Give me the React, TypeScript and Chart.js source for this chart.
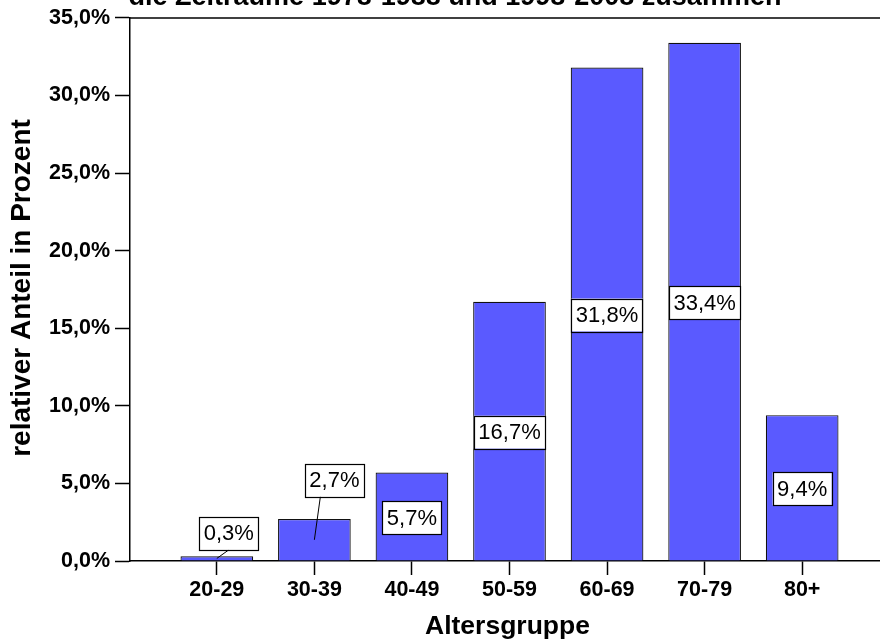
import React, { useEffect, useRef } from "react";
import { Chart, registerables } from "chart.js";

Chart.register(...registerables);

// Age groups and their relative share (percent)
const ageGroups: string[] = ["20-29", "30-39", "40-49", "50-59", "60-69", "70-79", "80+"];
const shares: number[] = [0.3, 2.7, 5.7, 16.7, 31.8, 33.4, 9.4];
const yTicks: number[] = [0, 5, 10, 15, 20, 25, 30, 35];

const titleText = "die Zeiträume 1978-1988 und 1998-2008 zusammen";
const xTitle = "Altersgruppe";
const yTitle = "relativer Anteil in Prozent";

const FONT = "'Liberation Sans', Arial, Helvetica, sans-serif";

const fmt = (v: number) => v.toFixed(1).replace(".", ",") + "%";

// Labels of short bars are moved above the bar and joined by a leader line
const callouts: Record<number, { dx: number; dy: number; tip: number }> = {
  0: { dx: 12, dy: -23, tip: 12 },
  1: { dx: 20, dy: -39, tip: 6 },
};

const decorPlugin = {
  id: "decor",
  afterDraw(chart: any) {
    const { ctx, chartArea } = chart;
    ctx.save();
    // frame line along the top of the plot
    ctx.strokeStyle = "#000";
    ctx.lineWidth = 1.5;
    ctx.beginPath();
    ctx.moveTo(chartArea.left, chartArea.top);
    ctx.lineTo(chartArea.right, chartArea.top);
    ctx.stroke();

    // chart title (sits partly above the canvas edge)
    ctx.fillStyle = "#000";
    ctx.font = `bold 27px ${FONT}`;
    ctx.textAlign = "center";
    ctx.textBaseline = "alphabetic";
    ctx.fillText(titleText, 455, 5);

    // axis titles
    ctx.textBaseline = "middle";
    ctx.font = `bold 26.5px ${FONT}`;
    ctx.fillText(xTitle, (chartArea.left + chartArea.right) / 2 - 2, 627);
    ctx.save();
    ctx.font = `bold 28px ${FONT}`;
    ctx.translate(22, 288);
    ctx.rotate(-Math.PI / 2);
    ctx.fillText(yTitle, 0, 0);
    ctx.restore();

    // value labels
    const meta = chart.getDatasetMeta(0);
    ctx.font = `22px ${FONT}`;
    meta.data.forEach((bar: any, i: number) => {
      const text = fmt(shares[i]);
      const w = ctx.measureText(text).width + 9;
      const h = 33;
      let cx = bar.x;
      let cy = (bar.y + bar.base) / 2 + 1;
      const c = callouts[i];
      if (c) {
        const midY = (bar.y + bar.base) / 2;
        cx = bar.x + c.dx;
        cy = bar.y + c.dy;
        ctx.strokeStyle = "#000";
        ctx.lineWidth = 1;
        ctx.beginPath();
        ctx.moveTo(bar.x, midY);
        ctx.lineTo(bar.x + c.tip, cy + h / 2);
        ctx.stroke();
      }
      ctx.fillStyle = "#fff";
      ctx.fillRect(cx - w / 2, cy - h / 2, w, h);
      ctx.strokeStyle = "#000";
      ctx.lineWidth = 1.2;
      ctx.strokeRect(Math.round(cx - w / 2) + 0.5, Math.round(cy - h / 2) + 0.5, Math.round(w), h);
      ctx.fillStyle = "#000";
      ctx.textAlign = "center";
      ctx.textBaseline = "middle";
      ctx.fillText(text, cx, cy + 1);
    });
    ctx.restore();
  },
};

export default function App() {
  const canvasRef = useRef<HTMLCanvasElement | null>(null);

  useEffect(() => {
    const canvas = canvasRef.current;
    if (!canvas) return;
    const chart = new Chart(canvas, {
      type: "bar",
      data: {
        datasets: [
          {
            data: shares.map((v, i) => ({ x: i + 1, y: v })),
            backgroundColor: "#5a5aff",
            borderColor: "#111",
            borderWidth: 1.2,
            barPercentage: 0.745,
            categoryPercentage: 1,
          },
        ],
      },
      options: {
        responsive: false,
        animation: false,
        layout: { padding: { top: 16, right: 11, left: 0, bottom: 0 } },
        plugins: {
          legend: { display: false },
          tooltip: { enabled: false },
          title: { display: false },
        },
        scales: {
          x: {
            type: "linear",
            offset: false,
            min: 0.11,
            max: 7.89,
            afterFit: (scale: any) => {
              scale.height = 82;
            },
            afterBuildTicks: (scale: any) => {
              scale.ticks = ageGroups.map((_, i) => ({ value: i + 1 }));
            },
            ticks: {
              callback: (v: any) => ageGroups[Number(v) - 1] ?? "",
              color: "#000",
              font: { family: FONT, size: 21.5, weight: "bold" },
              padding: 2,
              maxRotation: 0,
              autoSkip: false,
            },
            grid: {
              offset: false,
              drawOnChartArea: false,
              drawTicks: true,
              tickLength: 14,
              tickColor: "#000",
              tickWidth: 1.5,
            },
            border: { display: true, color: "#000", width: 1.5 },
          },
          y: {
            min: 0,
            max: 35,
            afterFit: (scale: any) => {
              scale.width = 130;
            },
            afterBuildTicks: (scale: any) => {
              scale.ticks = yTicks.map((v) => ({ value: v }));
            },
            ticks: {
              callback: (v: any) => fmt(Number(v)),
              color: "#000",
              font: { family: FONT, size: 21.5, weight: "bold" },
              padding: 5,
            },
            grid: {
              drawOnChartArea: false,
              drawTicks: true,
              tickLength: 15,
              tickColor: "#000",
              tickWidth: 1.5,
            },
            border: { display: true, color: "#000", width: 1.5 },
          },
        },
      },
      plugins: [decorPlugin],
    });
    return () => chart.destroy();
  }, []);

  return (
    <div
      style={{
        position: "absolute",
        left: 0,
        top: 0,
        width: 880,
        height: 643,
        overflow: "hidden",
        background: "#fff",
      }}
    >
      <canvas ref={canvasRef} width={900} height={643} style={{ display: "block" }} />
    </div>
  );
}
